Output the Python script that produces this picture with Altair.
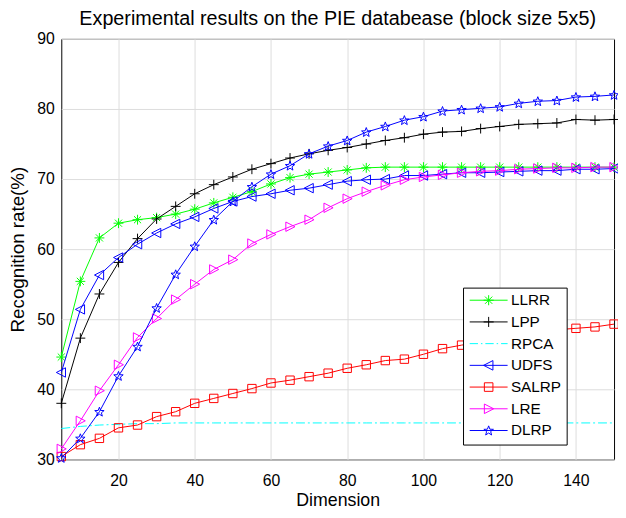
import math
import altair as alt
import pandas as pd

# ---------------- data ----------------
dims = list(range(5, 155, 5))

names = ["LLRR", "LPP", "RPCA", "UDFS", "SALRP", "LRE", "DLRP"]

llrr = [44.6, 55.4, 61.6, 63.7, 64.2, 64.5, 65.0, 65.7, 66.6, 67.4, 68.2, 69.3, 70.2, 70.7, 71.0,
        71.3, 71.6, 71.7, 71.7, 71.7, 71.7, 71.7, 71.7, 71.7, 71.7, 71.7, 71.7, 71.7, 71.7, 71.7]
lpp = [38.0, 47.3, 53.6, 58.1, 61.5, 64.3, 66.1, 67.9, 69.2, 70.3, 71.4, 72.2, 73.0, 73.6, 74.1,
       74.5, 75.0, 75.5, 75.9, 76.4, 76.7, 76.8, 77.2, 77.5, 77.8, 77.9, 78.0, 78.5, 78.4, 78.5]
rpca = [34.4, 34.7, 34.9, 35.0, 35.1, 35.1, 35.2, 35.2, 35.2, 35.2, 35.2, 35.2, 35.2, 35.2, 35.2,
        35.2, 35.2, 35.2, 35.2, 35.2, 35.2, 35.2, 35.2, 35.2, 35.2, 35.2, 35.2, 35.2, 35.2, 35.2]
udfs = [42.4, 51.4, 56.3, 58.8, 60.7, 62.3, 63.6, 64.6, 65.8, 66.8, 67.5, 67.9, 68.4, 68.7, 69.2,
        69.7, 69.9, 70.0, 70.5, 70.5, 70.7, 70.9, 70.9, 71.0, 71.1, 71.2, 71.2, 71.4, 71.4, 71.5]
salrp = [30.4, 32.1, 33.0, 34.5, 34.9, 36.1, 36.8, 38.0, 38.7, 39.4, 40.1, 40.9, 41.3, 41.8, 42.3,
         43.0, 43.5, 44.1, 44.3, 45.0, 45.8, 46.3, 46.8, 47.3, 47.8, 48.2, 48.5, 48.7, 48.9, 49.3]
lre = [31.5, 35.5, 39.8, 43.5, 47.4, 50.1, 52.8, 55.0, 57.1, 58.5, 60.8, 62.1, 63.2, 64.2, 65.9,
       67.2, 68.2, 69.1, 69.9, 70.3, 70.6, 70.9, 71.1, 71.2, 71.4, 71.5, 71.6, 71.6, 71.7, 71.7]
dlrp = [30.2, 33.0, 36.8, 41.9, 46.1, 51.6, 56.4, 60.4, 64.2, 66.8, 68.9, 70.7, 71.9, 73.6, 74.7,
        75.5, 76.7, 77.5, 78.4, 78.9, 79.7, 79.9, 80.1, 80.3, 80.8, 81.1, 81.2, 81.7, 81.8, 82.0]

series_values = [llrr, lpp, rpca, udfs, salrp, lre, dlrp]
colors = ["#00FF00", "#000000", "#00FFFF", "#0000FF", "#FF0000", "#FF00FF", "#0000FF"]

x_ticks = [20, 40, 60, 80, 100, 120, 140]
y_ticks = [30, 40, 50, 60, 70, 80, 90]

# ---------------- marker shapes (SVG paths) ----------------
def segs(seglist, s=1.0, dx=0.0):
    return "".join(f"M{a[0]*s+dx:.3f},{a[1]*s:.3f}L{b[0]*s+dx:.3f},{b[1]*s:.3f}" for a, b in seglist)

def poly(pts, s=1.0, dx=0.0):
    return "M" + "L".join(f"{x*s+dx:.3f},{y*s:.3f}" for x, y in pts) + "Z"

star_pts = []
for k in range(10):
    r = 1.0 if k % 2 == 0 else 0.42
    ang = math.radians(-90 + 36 * k)
    star_pts.append((r * math.cos(ang), r * math.sin(ang) + 0.08))

def marker(kind, s=1.0, dx=0.0):
    if kind == "asterisk":
        return segs([((-1, 0), (1, 0)), ((0, -1), (0, 1)),
                     ((-0.72, -0.72), (0.72, 0.72)), ((-0.72, 0.72), (0.72, -0.72))], s, dx)
    if kind == "plus":
        return segs([((-1, 0), (1, 0)), ((0, -1), (0, 1))], s, dx)
    if kind == "tleft":
        return poly([(-1, 0), (0.85, -0.95), (0.85, 0.95)], s, dx)
    if kind == "square":
        return poly([(-0.85, -0.85), (0.85, -0.85), (0.85, 0.85), (-0.85, 0.85)], s, dx)
    if kind == "tright":
        return poly([(1, 0), (-0.85, -0.95), (-0.85, 0.95)], s, dx)
    if kind == "star":
        return poly(star_pts, s, dx)
    return None

kinds = ["asterisk", "plus", None, "tleft", "square", "tright", "star"]
dashes = [None, None, [9, 3, 2, 3], None, None, None, None]

# legend glyphs: a line with the marker in its middle (units of 6 px)
L0, L1 = -1.0, 5.4
MID = (L0 + L1) / 2
legend_paths = []
for kd in kinds:
    if kd is None:
        legend_paths.append(segs([((-1.0, 0), (0.4, 0)), ((0.9, 0), (1.15, 0)),
                                  ((1.65, 0), (3.05, 0)), ((3.55, 0), (3.8, 0)),
                                  ((4.3, 0), (5.4, 0))]))
    else:
        legend_paths.append(f"M{L0},0L{L1},0" + marker(kd, 0.85, MID))

# ---------------- table ----------------
rows = []
for nm, vals in zip(names, series_values):
    for d, v in zip(dims, vals):
        rows.append({"series": nm, "dim": d, "rate": v})
df = pd.DataFrame(rows)

FONT = "Liberation Sans"

X = alt.X("dim:Q", scale=alt.Scale(domain=[5, 150], nice=False, zero=False),
          axis=alt.Axis(values=x_ticks, title="Dimension", labelPadding=13,
                        titleY=42, titleBaseline="middle", titleFontSize=18))
Y = alt.Y("rate:Q", scale=alt.Scale(domain=[30, 90], nice=False, zero=False),
          axis=alt.Axis(values=y_ticks, title="Recognition rate(%)", labelPadding=7,
                        titleX=-44, titleY=213, titleBaseline="middle"))

layers = []
for nm, c, kd, dash in zip(names, colors, kinds, dashes):
    sub = df[df.series == nm]
    line_kw = dict(color=c, strokeWidth=1)
    if dash:
        line_kw["strokeDash"] = dash
    layers.append(alt.Chart(sub).mark_line(**line_kw).encode(x=X, y=Y))
    if kd is not None:
        layers.append(
            alt.Chart(sub).mark_point(shape=marker(kd), filled=False, color=c, size=100,
                                      strokeWidth=1, opacity=1).encode(x=X, y=Y))

leg = alt.Legend(title=None, orient="none", legendX=407, legendY=252,
                 fillColor="white", strokeColor="black", padding=5,
                 symbolSize=144, symbolStrokeWidth=1, labelFont=FONT,
                 labelFontSize=15.5, labelColor="black", labelOffset=28,
                 rowPadding=5, symbolOpacity=1)

legend_layer = alt.Chart(df).transform_filter("datum.rate < 0").mark_point(
    filled=False, strokeWidth=1, opacity=1).encode(
    x=X, y=Y,
    color=alt.Color("series:N", scale=alt.Scale(domain=names, range=colors), legend=leg),
    shape=alt.Shape("series:N", scale=alt.Scale(domain=names, range=legend_paths), legend=leg),
)
layers.append(legend_layer)

chart = alt.layer(*layers).properties(
    width=560, height=426,
    title=alt.TitleParams("Experimental results on the PIE databease (block size 5x5)",
                          font=FONT, fontSize=20, fontWeight="normal", color="black",
                          offset=2, anchor="middle"),
    autosize=alt.AutoSizeParams(type="none"),
    padding={"left": 54, "top": 28, "right": 4, "bottom": 48},
).configure_view(stroke="black", strokeWidth=1).configure_axis(
    grid=True, gridColor="#DCDCDC", gridWidth=1, domain=False, ticks=False,
    labelFont=FONT, labelFontSize=16, labelColor="black",
    titleFont=FONT, titleFontSize=19, titleFontWeight="normal", titleColor="black",
)

chart.save("out.html", embed_options={"renderer": "svg", "actions": False})
